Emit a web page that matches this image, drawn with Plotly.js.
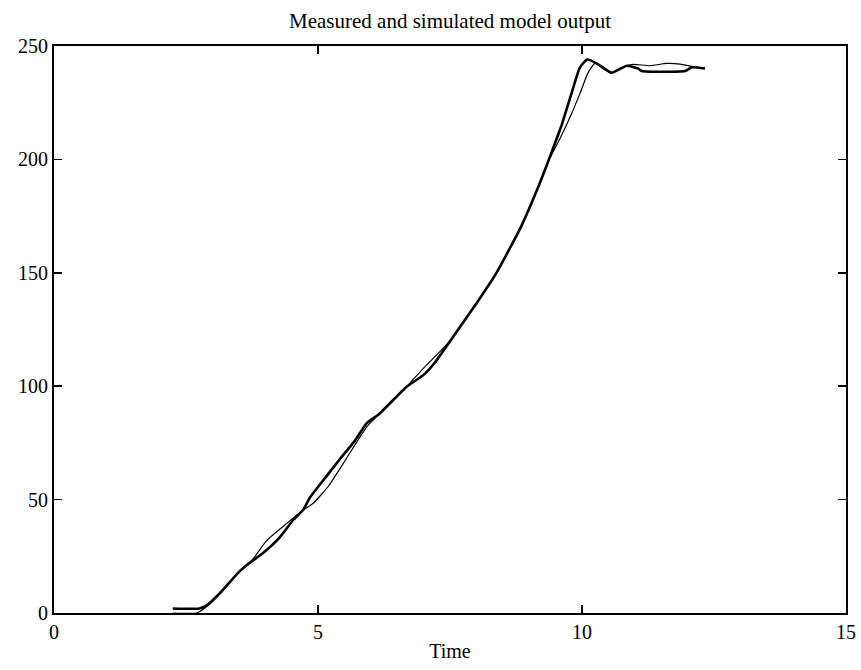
<!DOCTYPE html>
<html>
<head>
<meta charset="utf-8">
<script src="https://cdn.plot.ly/plotly-3.0.1.min.js"></script>
<style>html,body{margin:0;padding:0;background:#fff;}#chart{width:861px;height:670px;}</style>
</head>
<body>
<div id="chart"></div>
<script>
// Measured output (thick line)
const measuredTime = [2.25, 2.75, 2.9, 3.14, 3.5, 3.7, 3.96, 4.28, 4.53, 4.72, 4.85, 5.15, 5.42, 5.7, 5.92, 6.17, 6.68, 7.0, 7.2, 7.56, 8.0, 8.38, 8.83, 9.2, 9.43, 9.62, 9.8, 9.96, 10.1, 10.3, 10.56, 10.85, 11.07, 11.13, 11.95, 12.08, 12.33];
const measuredValue = [2, 2, 3.5, 8.7, 18, 22, 26.5, 33.5, 41, 45.5, 51, 60, 68, 76, 83.6, 88, 99.8, 105, 110, 121.8, 136.5, 150, 169.6, 189.5, 203.5, 215.5, 229, 240.5, 244, 242, 238.2, 241.3, 240, 239, 239, 240.6, 240.1];
// Simulated model output (thin line)
const simTime = [2.25, 2.7, 2.9, 3.14, 3.5, 3.71, 4.03, 4.41, 4.72, 4.91, 5.2, 5.48, 5.92, 6.17, 6.68, 7.0, 7.3, 7.56, 8.0, 8.38, 8.83, 9.2, 9.36, 9.6, 9.8, 9.96, 10.12, 10.25, 10.4, 10.56, 10.85, 10.97, 11.29, 11.6, 11.86, 12.1, 12.33];
const simValue = [0, 0, 3, 8.5, 18, 22, 32, 39.5, 45.4, 48.4, 56, 66, 82, 88, 99.8, 108, 115, 121.8, 136.5, 150, 169.6, 189.5, 199, 210, 220, 229, 238.5, 242.4, 240, 238.2, 241.3, 241.9, 241.3, 242.3, 242, 240.9, 240.1];
const xTicks = [0, 5, 10, 15];
const yTicks = [0, 50, 100, 150, 200, 250];

const font = {family: 'Liberation Serif, Times New Roman, serif', size: 20, color: '#000'};

const traces = [
  {x: simTime, y: simValue, mode: 'lines', line: {color: '#000', width: 1.2, shape: 'spline', smoothing: 0.5}, name: 'Simulated'},
  {x: measuredTime, y: measuredValue, mode: 'lines', line: {color: '#000', width: 2.6, shape: 'spline', smoothing: 0.5}, name: 'Measured'}
];

const axisCommon = {
  showgrid: false, zeroline: false, showline: true, linecolor: '#000', linewidth: 2,
  mirror: 'allticks', ticks: 'inside', ticklen: 8, tickwidth: 1.5, tickcolor: '#000',
  tickfont: font
};

const layout = {
  width: 861, height: 670,
  margin: {l: 54, r: 15, t: 46, b: 57},
  paper_bgcolor: '#fff', plot_bgcolor: '#fff',
  showlegend: false,
  font: font,
  title: {text: 'Measured and simulated model output', font: {family: font.family, size: 21, color: '#000'}, x: 0.5, xref: 'paper', y: 1 - 21/670, yref: 'container', yanchor: 'middle'},
  xaxis: Object.assign({}, axisCommon, {range: [0, 15], tickvals: xTicks, ticktext: xTicks.map(String), title: {text: 'Time', font: font, standoff: 2}}),
  yaxis: Object.assign({}, axisCommon, {range: [0, 250], tickvals: yTicks, ticktext: yTicks.map(String)})
};

Plotly.newPlot('chart', traces, layout, {displayModeBar: false, staticPlot: true});
</script>
</body>
</html>
